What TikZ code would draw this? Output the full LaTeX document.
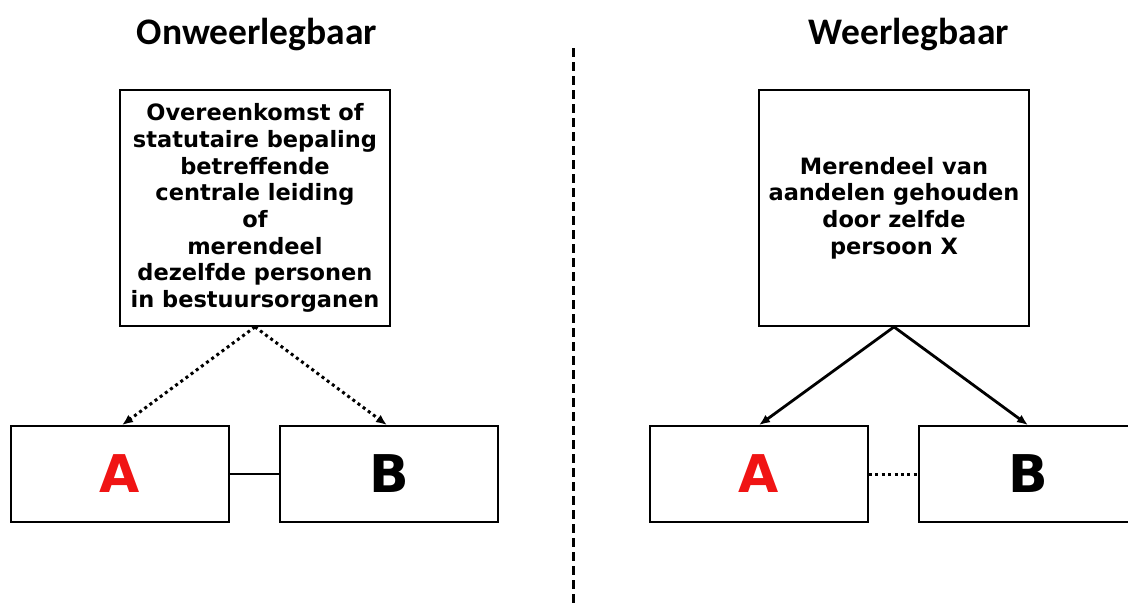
\documentclass[tikz,border=0pt]{standalone}
\usepackage{fontspec}
\setmainfont{DejaVu Sans}
\newfontfamily\titlefont{Carlito}
\usetikzlibrary{arrows.meta, calc}
\definecolor{lred}{RGB}{240,20,20}

\begin{document}
\begin{tikzpicture}[
  x=1pt, y={(0pt,-1pt)}, >={Latex[length=11pt,width=9pt]},
  title/.style={font=\titlefont\bfseries\fontsize{37.5}{40}\selectfont},
  textbox/.style={draw, line width=1.8pt, minimum width=270pt, minimum height=236pt, align=center, inner sep=2pt, font=\bfseries\fontsize{22.5}{26.7}\selectfont},
  party/.style={draw, line width=1.8pt, minimum width=218pt, minimum height=96pt, font=\bfseries\fontsize{52}{54}\selectfont},
  link/.style={->, line width=2.8pt},
  dotlink/.style={->, line width=3pt, dash pattern=on 3pt off 3.4pt},
]
\useasboundingbox (0,0) rectangle (1128,603);

% ---- titles and split
\node[title] (tleft)  at (257,35) {Onweerlegbaar};
\node[title] (tright) at (909,35) {Weerlegbaar};
\coordinate (stop) at (573,48);
\coordinate (sbot) at (573,603);
\draw[line width=3pt, dash pattern=on 9pt off 5pt] (stop) -- (sbot);

% ---- left side
\node[textbox] (ctrl) at (255,208) {Overeenkomst of\\statutaire bepaling\\betreffende\\centrale leiding\\of\\merendeel\\dezelfde personen\\in bestuursorganen};
\node[party, text=lred] (a1) at (120,474) {A};
\node[party] (b1) at (389,474) {B};
\draw[dotlink] (ctrl.south) -- ($(a1.north)+(2,0)$);
\draw[dotlink] (ctrl.south) -- ($(b1.north)+(-2,0)$);
\draw[line width=2.6pt] (a1) -- (b1);

% ---- right side
\node[textbox] (share) at (894,208) {Merendeel van\\aandelen gehouden\\door zelfde\\persoon X};
\node[party, text=lred] (a2) at (759,474) {A};
\node[party] (b2) at (1028,474) {B};
\draw[link] (share.south) -- (a2.north);
\draw[link] (share.south) -- (b2.north);
\draw[line width=3pt, dash pattern=on 3pt off 3.4pt] (a2) -- (b2);

\end{tikzpicture}
\end{document}
